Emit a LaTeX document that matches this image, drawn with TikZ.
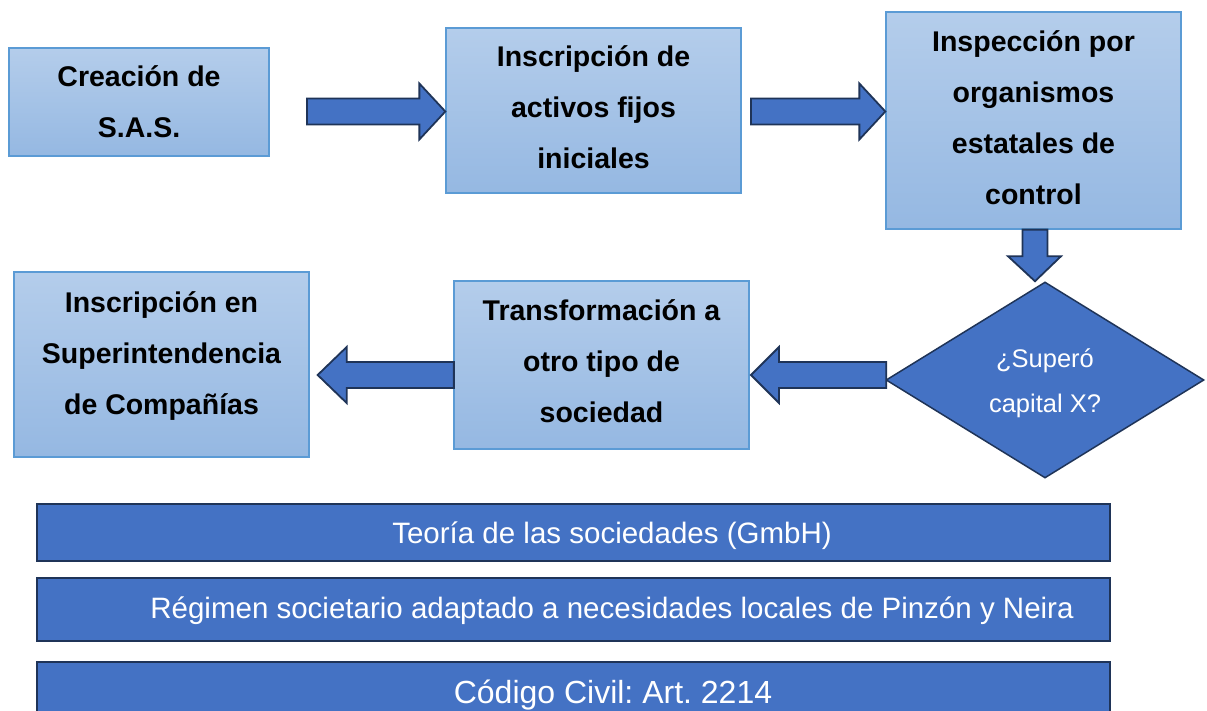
\documentclass[tikz,border=0pt]{standalone}
\usepackage{fontspec}
\setmainfont{Liberation Sans}
\frenchspacing
\usetikzlibrary{calc,shapes.geometric}
\definecolor{boxtop}{HTML}{B4CDEB}
\definecolor{boxbot}{HTML}{95B8E2}
\definecolor{boxline}{HTML}{5B9BD5}
\definecolor{darkfill}{HTML}{4472C4}
\definecolor{darkline}{HTML}{1F3458}
\tikzset{
  stepbox/.style={draw=boxline, line width=1.3pt, top color=boxtop, bottom color=boxbot, inner sep=0pt},
  steptext/.style={align=center, inner sep=0pt, font=\bfseries\fontsize{28.5}{51}\selectfont},
  blockarrow/.style={draw=darkline, fill=darkfill, line width=1.8pt, line join=miter},
  decision/.style={diamond, draw=darkline, fill=darkfill, line width=1.5pt, inner sep=0pt,
    text=white, align=center, font=\fontsize{25.5}{45}\selectfont},
  bar/.style={draw=darkline, fill=darkfill, line width=1.8pt, inner sep=0pt},
  bartext/.style={text=white, anchor=base, inner sep=0pt, font=\fontsize{29.5}{34}\selectfont},
}
% horizontal block arrow: #1 tail, #2 tip (same height), #3 head offset (negative = points right)
\newcommand\hblock[3]{%
  \draw[blockarrow] let \p1=(#1), \p2=(#2) in
    (\x1,\y1+13pt) -- (\x2+#3pt,\y1+13pt) -- (\x2+#3pt,\y1+28pt) -- (\x2,\y2)
    -- (\x2+#3pt,\y1-28pt) -- (\x2+#3pt,\y1-13pt) -- (\x1,\y1-13pt) -- cycle;}
\begin{document}
\begin{tikzpicture}[x=1pt,y=-1pt]
\useasboundingbox (0,0) rectangle (1207,711);
\clip (0,0) rectangle (1207,711);
\fill[white] (0,0) rectangle (1207,711);

% boxes
\node[stepbox, minimum width=260pt, minimum height=108pt,
  label={[steptext]center:Creación de\\S.A.S.}] (b1) at (139,102) {};
\node[stepbox, minimum width=295pt, minimum height=165pt,
  label={[steptext, yshift=3pt]center:Inscripción de\\activos fijos\\iniciales}] (b2) at (593.5,110.5) {};
\node[stepbox, minimum width=295pt, minimum height=217pt,
  label={[steptext, yshift=3pt]center:Inspección por\\organismos\\estatales de\\control}] (b3) at (1033.5,120.5) {};
\node[stepbox, minimum width=295pt, minimum height=185pt,
  label={[steptext, yshift=8pt]center:Inscripción en\\Superintendencia\\de Compañías}] (b4) at (161.5,364.5) {};
\node[stepbox, minimum width=295pt, minimum height=168pt,
  label={[steptext, yshift=4pt]center:Transformación a\\otro tipo de\\sociedad}] (b5) at (601.5,365) {};
\node[decision, minimum width=318pt, minimum height=196pt,
  label={[text=white, align=center, inner sep=0pt, font=\fontsize{25.5}{45}\selectfont, yshift=-3pt]center:¿Superó\\capital X?}] (d) at (1045,380) {};

% connectors
\coordinate (a1t) at (307,111.5);
\hblock{a1t}{b2.west |- a1t}{-26}
\coordinate (a2t) at (751,111.5);
\hblock{a2t}{b3.west |- a2t}{-26}
\coordinate (a3t) at ($(d.west)+(1,-5)$);
\coordinate (a3h) at (751,375);
\hblock{a3t}{a3h}{28}
\coordinate (a4t) at ($(b5.west |- a3t)+(0.5,0)$);
\coordinate (a4h) at ($(b4.east |- a3t)+(8,0)$);
\hblock{a4t}{a4h}{29}
% down arrow
\coordinate (dt) at ($(b3.south)+(1.5,0)$);
\coordinate (dh) at (dt |- d.north);
\draw[blockarrow] let \p1=(dt), \p2=(dh) in
  (\x1-12.5pt,\y1) -- (\x1-12.5pt,\y2+25pt) -- (\x1-27pt,\y2+25pt) -- (\x2,\y2)
  -- (\x1+26pt,\y2+25pt) -- (\x1+12.5pt,\y2+25pt) -- (\x1+12.5pt,\y1) -- cycle;

% bottom bars
\node[bar, minimum width=1073pt, minimum height=57pt] (r1) at (573.5,532.5) {};
\node[bar, minimum width=1073pt, minimum height=63pt] (r2) at (573.5,609.5) {};
\node[bar, minimum width=1073pt, minimum height=70pt] (r3) at (573.5,697) {};
\node[bartext] (t1) at (612,543) {Teoría de las sociedades (GmbH)};
\node[bartext] (t2) at (612,618) {Régimen societario adaptado a necesidades locales de Pinzón y Neira};
\node[bartext, font=\fontsize{32}{36}\selectfont] (t3) at (613,703) {Código Civil: Art. 2214};
\end{tikzpicture}
\end{document}
